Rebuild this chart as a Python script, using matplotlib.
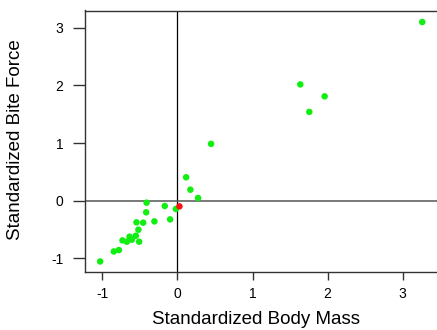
import matplotlib
matplotlib.use("Agg")
import matplotlib.pyplot as plt

plt.rcParams['font.family'] = ['Liberation Sans', 'DejaVu Sans']

# Data (standardized body mass, standardized bite force)
mass_green = [3.26, 1.636, 1.96, 1.756, 0.448, 0.116, 0.173, 0.275,
              -0.02, -0.168, -0.097, -0.41, -0.416, -0.306, -0.545, -0.456,
              -0.519, -0.637, -0.553, -0.731, -0.673, -0.606, -0.509,
              -0.779, -0.846, -1.028]
bite_green = [3.10, 2.017, 1.81, 1.54, 0.985, 0.405, 0.19, 0.046,
              -0.145, -0.093, -0.325, -0.035, -0.203, -0.36, -0.377, -0.383,
              -0.504, -0.626, -0.609, -0.69, -0.713, -0.678, -0.713,
              -0.858, -0.882, -1.056]
mass_red = [0.027]
bite_red = [-0.099]

xticks = [-1, 0, 1, 2, 3]
yticks = [-1, 0, 1, 2, 3]

W, H = 437, 330
fig = plt.figure(figsize=(W / 100, H / 100), dpi=100)
ax = fig.add_axes([85 / W, 1 - 271.5 / H, (437 - 85) / W, (271.5 - 10.5) / H])

ax.axvline(0, color='black', lw=0.9, zorder=1)
ax.axhline(0, color='#555555', lw=1.1, zorder=1)

ax.scatter(mass_green, bite_green, s=22, color='#11ee11', edgecolors='none', zorder=3)
ax.scatter(mass_red, bite_red, s=22, color='#ff1111', edgecolors='none', zorder=4)

ax.set_xlim(-1.23, 3.456)
ax.set_ylim(-1.23, 3.30)

ax.set_xticks(xticks)
ax.set_yticks(yticks)
ax.set_xticklabels([str(t) for t in xticks])
ax.set_yticklabels([str(t) for t in yticks])

for s in ['left', 'top', 'bottom']:
    ax.spines[s].set_color('#333333')
    ax.spines[s].set_linewidth(1.0)
ax.spines['right'].set_visible(False)

ax.tick_params(axis='x', direction='out', length=6, width=1.0, color='#333333',
               labelsize=10, pad=5)
ax.tick_params(axis='y', direction='out', length=9, width=1.0, color='#333333',
               labelsize=10, pad=6.5)

fig.text(256 / W, 1 - 324.5 / H, 'Standardized Body Mass', fontsize=13.5,
         ha='center', va='baseline')
fig.text(6.5 / W, 1 - 139.5 / H, 'Standardized Bite Force', fontsize=13.5,
         rotation=90, ha='left', va='center')

fig.savefig('out.png', dpi=100)
